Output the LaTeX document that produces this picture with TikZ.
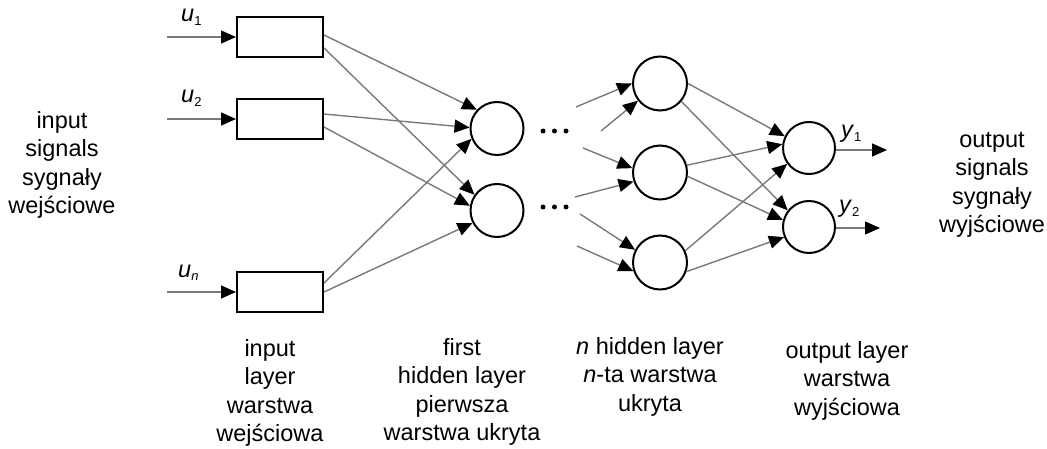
\documentclass[tikz,border=0pt]{standalone}
\usepackage{fontspec}
\setmainfont{Liberation Sans}
\usetikzlibrary{arrows.meta,calc}
\tikzset{
  lbl/.style={font=\fontsize{23.5}{28.5}\selectfont, align=center, inner sep=0pt, anchor=north},
  sym/.style={font=\fontsize{23.5}{28.5}\selectfont, inner sep=0pt, anchor=base west},
  inbox/.style={draw=black, line width=2pt, rectangle, minimum width=86pt, minimum height=40pt, inner sep=0pt},
  neuron/.style={draw=black, line width=2pt, circle, minimum size=53pt, inner sep=0pt},
  conn/.style={draw=gray!95!black, line width=1.4pt, -{Triangle[length=15pt,width=13pt,color=black]}},
  dotm/.style={fill=black, circle, inner sep=0pt, minimum size=5pt}
}
\newcommand{\sub}[1]{\textsubscript{\fontsize{13}{13}\selectfont #1}}
\begin{document}
\begin{tikzpicture}[x=1pt,y=-1pt]
\useasboundingbox (0,0) rectangle (1047,449);
% input boxes
\node[inbox] (b1) at (280,37) {};
\node[inbox] (b2) at (280,119) {};
\node[inbox] (b3) at (280,292) {};
% first hidden
\node[neuron] (f1) at (497,128.5) {};
\node[neuron] (f2) at (497,210.5) {};
% n-th hidden
\node[neuron, minimum size=54pt] (h1) at (660,83.5) {};
\node[neuron, minimum size=54pt] (h2) at (660,172.5) {};
\node[neuron, minimum size=54pt] (h3) at (660,262.5) {};
% output
\node[neuron, minimum size=52pt] (o1) at (809,148) {};
\node[neuron, minimum size=52pt] (o2) at (809,227) {};
% dots
\node[dotm] (d1) at (543,131) {};
\node[dotm] (d2) at (554.5,131) {};
\node[dotm] (d3) at (566,131) {};
\node[dotm] (d4) at (543,207) {};
\node[dotm] (d5) at (554.5,207) {};
\node[dotm] (d6) at (566,207) {};
% input arrows
\coordinate (i1) at (167,37);
\coordinate (i2) at (167,119);
\coordinate (i3) at (167,292);
\draw[conn] (i1) -- (b1.west);
\draw[conn] (i2) -- (b2.west);
\draw[conn] (i3) -- (b3.west);
% input -> first hidden
\draw[conn] ($(b1.east)+(0,-2)$) -- (f1.137);
\draw[conn] ($(b1.east)+(0,11)$) -- (f2.145);
\draw[conn] ($(b2.east)+(0,-5)$) -- (f1.178);
\draw[conn] ($(b2.east)+(0,8)$) -- (f2.170);
\draw[conn] ($(b3.east)+(0,-9)$) -- (f1.202);
\draw[conn] ($(b3.east)+(0,0)$) -- (f2.207);
% free inputs to n-th hidden
\coordinate (e1) at (576,107);
\coordinate (e2) at (601,131);
\coordinate (e3) at (583,148);
\coordinate (e4) at (575,197);
\coordinate (e5) at (580,214);
\coordinate (e6) at (577,246);
\draw[conn] (e1) -- (h1.180);
\draw[conn] (e2) -- (h1.218);
\draw[conn] (e3) -- (h2.171);
\draw[conn] (e4) -- (h2.199);
\draw[conn] (e5) -- (h3.153);
\draw[conn] (e6) -- (h3.198);
% n-th hidden -> output
\draw[conn] (h1.0) -- (o1.154);
\draw[conn] (h1.320) -- (o2.142);
\draw[conn] (h2.15) -- (o1.172);
\draw[conn] (h2.352) -- (o2.165);
\draw[conn] (h3.25) -- (o1.216);
\draw[conn] (h3.341) -- (o2.202);
% outputs
\coordinate (out1) at (887,150);
\coordinate (out2) at (880,228);
\draw[conn] (o1.east |- out1) -- (out1);
\draw[conn] (o2.east |- out2) -- (out2);
% symbols
\node[sym] (u1) at (181,22) {\textit{u}\sub{1}};
\node[sym] (u2) at (181,103) {\textit{u}\sub{2}};
\node[sym] (un) at (178,277) {\textit{u}\sub{\textit{n}}};
\node[sym] (y1) at (841,138) {\textit{y}\sub{1}};
\node[sym] (y2) at (839,213) {\textit{y}\sub{2}};
% labels
\node[lbl] (lin) at (62,111) {input\\signals\\sygnały\\wejściowe};
\node[lbl] (lout) at (992,132) {output\\signals\\sygnały\\wyjściowe};
\node[lbl] (l1) at (270,339) {input\\layer\\warstwa\\wejściowa};
\node[lbl] (l2) at (462,338) {first\\hidden layer\\pierwsza\\warstwa ukryta};
\node[lbl] (l3) at (650,337) {\textit{n} hidden layer\\\textit{n}-ta warstwa\\ukryta};
\node[lbl] (l4) at (847,341) {output layer\\warstwa\\wyjściowa};
\end{tikzpicture}
\end{document}
